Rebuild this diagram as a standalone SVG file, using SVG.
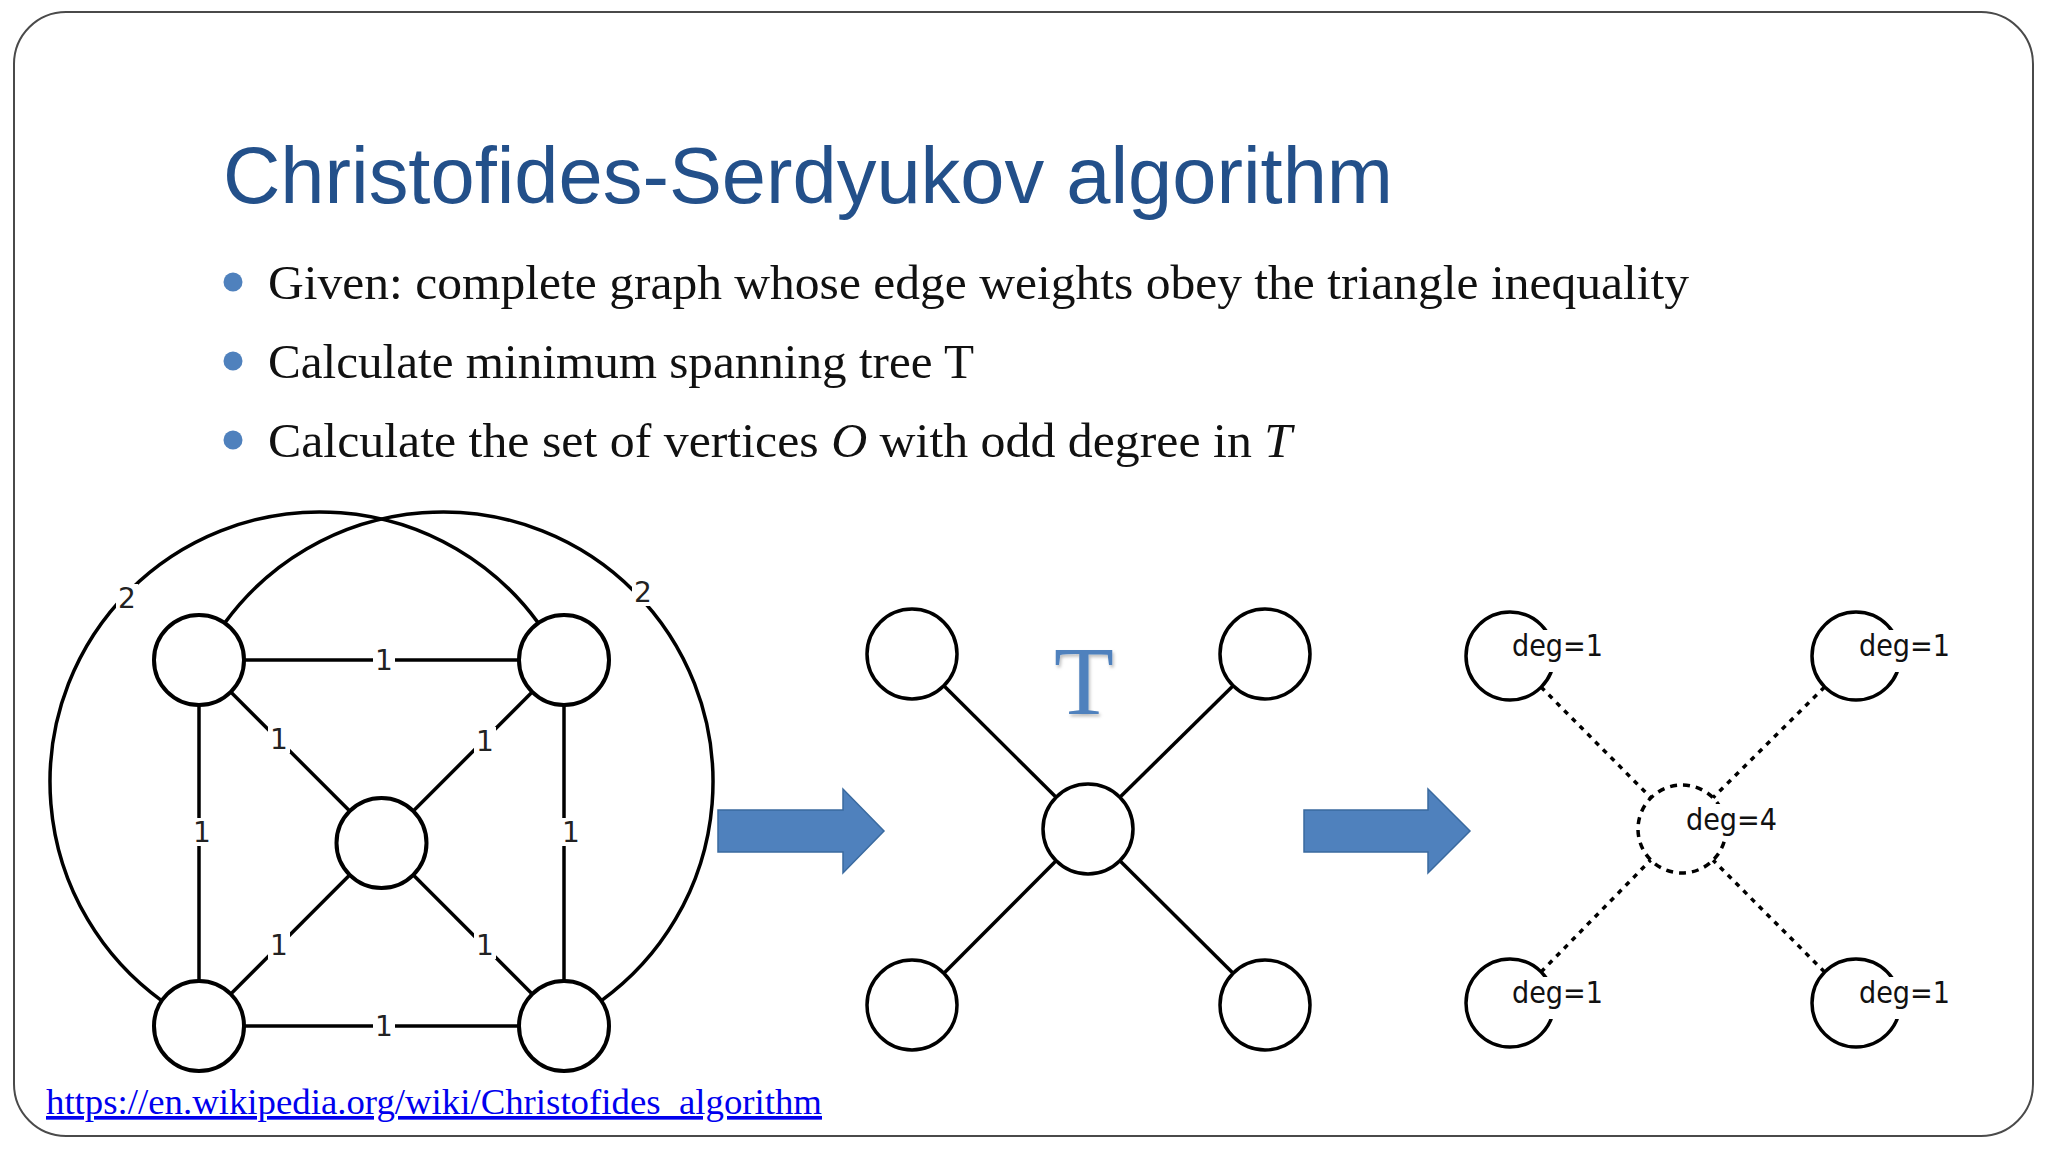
<svg xmlns="http://www.w3.org/2000/svg" width="2048" height="1152" viewBox="0 0 2048 1152">
<defs>
<style>
.frame{fill:#fff;stroke:#4a4a4a;stroke-width:2}
.title{font-family:"Liberation Sans",Arial,sans-serif;font-size:79px;fill:#23508a}
.bul{fill:#4f81bd}
.body{font-family:"Liberation Serif","Times New Roman",serif;font-size:49.5px;fill:#111}
.node{fill:#fff;stroke:#000;stroke-width:4}
.node2{fill:#fff;stroke:#000;stroke-width:3.5}
.edge{stroke:#000;stroke-width:3.5;fill:none}
.dedge{stroke:#000;stroke-width:3.5;fill:none;stroke-dasharray:5 6}
.dnode{fill:#fff;stroke:#000;stroke-width:3.5;stroke-dasharray:7 6}
.lbl{font-family:"DejaVu Sans",sans-serif;font-size:28px;fill:#222;text-anchor:middle}
.deg{font-family:"DejaVu Sans",sans-serif;font-size:30px;fill:#111}
.lblbg{fill:#fff}
.arrow{fill:#4f81bd;stroke:#3a6a9f;stroke-width:1.5}
.link{font-family:"Liberation Serif","Times New Roman",serif;font-size:36.5px;fill:#0000ee;text-decoration:underline}
</style>
<filter id="sh" x="-20%" y="-20%" width="140%" height="140%">
<feDropShadow dx="1.5" dy="2.5" stdDeviation="1.5" flood-color="#000" flood-opacity="0.25"/>
</filter>
</defs>
<rect class="frame" x="14" y="12" width="2019" height="1124" rx="52" ry="52"/>

<g id="title"><text class="title" x="223" y="203" textLength="1170" lengthAdjust="spacingAndGlyphs">Christofides-Serdyukov algorithm</text></g>

<g id="bullets">
<circle class="bul" cx="233" cy="282" r="9.5"/>
<text class="body" x="268" y="299" textLength="1421" lengthAdjust="spacingAndGlyphs">Given: complete graph whose edge weights obey the triangle inequality</text>
<circle class="bul" cx="233" cy="361" r="9.5"/>
<text class="body" x="268" y="378" textLength="706" lengthAdjust="spacingAndGlyphs">Calculate minimum spanning tree T</text>
<circle class="bul" cx="233" cy="440" r="9.5"/>
<text class="body" x="268" y="457" textLength="1024" lengthAdjust="spacingAndGlyphs">Calculate the set of vertices <tspan font-style="italic">O</tspan> with odd degree in <tspan font-style="italic">T</tspan></text>
</g>

<!-- Left graph -->
<g id="g1-edges">
<path class="edge" d="M161.9,1000.8 A270,270 0 1 1 538.2,622.9"/>
<path class="edge" d="M601.1,1000.8 A270,270 0 1 0 224.8,622.9"/>
<line class="edge" x1="244" y1="660" x2="519" y2="660"/>
<line class="edge" x1="244" y1="1026" x2="519" y2="1026"/>
<line class="edge" x1="199" y1="705" x2="199" y2="981"/>
<line class="edge" x1="564" y1="705" x2="564" y2="981"/>
<line class="edge" x1="230.8" y1="691.9" x2="349.7" y2="811.1"/>
<line class="edge" x1="532.2" y1="691.9" x2="413.3" y2="811.1"/>
<line class="edge" x1="230.8" y1="994.1" x2="349.7" y2="874.9"/>
<line class="edge" x1="532.2" y1="994.1" x2="413.3" y2="874.9"/>
</g>
<g id="g1-labels">
<rect class="lblbg" x="373" y="646" width="22" height="28"/><text class="lbl" x="384" y="670">1</text>
<rect class="lblbg" x="373" y="1012" width="22" height="28"/><text class="lbl" x="384" y="1036">1</text>
<rect class="lblbg" x="191" y="818" width="22" height="28"/><text class="lbl" x="202" y="842">1</text>
<rect class="lblbg" x="560" y="818" width="22" height="28"/><text class="lbl" x="571" y="842">1</text>
<rect class="lblbg" x="268" y="725" width="22" height="28"/><text class="lbl" x="279" y="749">1</text>
<rect class="lblbg" x="474" y="727" width="22" height="28"/><text class="lbl" x="485" y="751">1</text>
<rect class="lblbg" x="268" y="931" width="22" height="28"/><text class="lbl" x="279" y="955">1</text>
<rect class="lblbg" x="474" y="931" width="22" height="28"/><text class="lbl" x="485" y="955">1</text>
<rect class="lblbg" x="116" y="584" width="22" height="28"/><text class="lbl" x="127" y="608">2</text>
<rect class="lblbg" x="632" y="578" width="22" height="28"/><text class="lbl" x="643" y="602">2</text>
</g>
<g id="g1-n-tl"><circle class="node" cx="199" cy="660" r="45"/></g>
<g id="g1-n-tr"><circle class="node" cx="564" cy="660" r="45"/></g>
<g id="g1-n-c"><circle class="node" cx="381.5" cy="843" r="45"/></g>
<g id="g1-n-bl"><circle class="node" cx="199" cy="1026" r="45"/></g>
<g id="g1-n-br"><circle class="node" cx="564" cy="1026" r="45"/></g>

<!-- Arrows -->
<g id="arrow1"><polygon class="arrow" points="718,810 843,810 843,789 884,831 843,873 843,852 718,852"/></g>
<g id="arrow2"><polygon class="arrow" points="1304,810 1428,810 1428,789 1470,831 1428,873 1428,852 1304,852"/></g>

<!-- Middle graph -->
<g id="g2-edges">
<line class="edge" x1="943.9" y1="685.7" x2="1056.1" y2="797.3"/>
<line class="edge" x1="1233.1" y1="685.7" x2="1119.9" y2="797.3"/>
<line class="edge" x1="943.9" y1="973.3" x2="1056.1" y2="860.7"/>
<line class="edge" x1="1233.1" y1="973.3" x2="1119.9" y2="860.7"/>
</g>
<g id="g2-n-tl"><circle class="node2" cx="912" cy="654" r="45"/></g>
<g id="g2-n-tr"><circle class="node2" cx="1265" cy="654" r="45"/></g>
<g id="g2-n-c"><circle class="node2" cx="1088" cy="829" r="45"/></g>
<g id="g2-n-bl"><circle class="node2" cx="912" cy="1005" r="45"/></g>
<g id="g2-n-br"><circle class="node2" cx="1265" cy="1005" r="45"/></g>
<g id="g2-label"><text x="1084" y="714" font-family="'Liberation Serif','Times New Roman',serif" font-size="98" fill="#4f81bd" text-anchor="middle" filter="url(#sh)">T</text></g>

<!-- Right graph -->
<g id="g3-edges">
<line class="dedge" x1="1541" y1="687" x2="1650.7" y2="797.5"/>
<line class="dedge" x1="1824.6" y1="687" x2="1712.9" y2="797.7"/>
<line class="dedge" x1="1541" y1="972" x2="1650.7" y2="860"/>
<line class="dedge" x1="1824.6" y1="972" x2="1712.9" y2="860"/>
</g>
<g id="g3-n-tl"><circle class="node2" cx="1510" cy="656" r="44"/><rect class="lblbg" x="1511" y="630" width="95" height="42"/><text class="deg" x="1512" y="656" textLength="91" lengthAdjust="spacingAndGlyphs">deg=1</text></g>
<g id="g3-n-tr"><circle class="node2" cx="1856" cy="656" r="44"/><rect class="lblbg" x="1857" y="630" width="95" height="42"/><text class="deg" x="1859" y="656" textLength="91" lengthAdjust="spacingAndGlyphs">deg=1</text></g>
<g id="g3-n-c"><circle class="dnode" cx="1682" cy="829" r="44"/><rect class="lblbg" x="1684" y="804" width="96" height="36"/><text class="deg" x="1686" y="830" textLength="91" lengthAdjust="spacingAndGlyphs">deg=4</text></g>
<g id="g3-n-bl"><circle class="node2" cx="1510" cy="1003" r="44"/><rect class="lblbg" x="1511" y="977" width="95" height="42"/><text class="deg" x="1512" y="1003" textLength="91" lengthAdjust="spacingAndGlyphs">deg=1</text></g>
<g id="g3-n-br"><circle class="node2" cx="1856" cy="1003" r="44"/><rect class="lblbg" x="1857" y="977" width="95" height="42"/><text class="deg" x="1859" y="1003" textLength="91" lengthAdjust="spacingAndGlyphs">deg=1</text></g>

<g id="link"><text class="link" x="46" y="1114" textLength="776" lengthAdjust="spacingAndGlyphs">https://en.wikipedia.org/wiki/Christofides_algorithm</text></g>
</svg>
